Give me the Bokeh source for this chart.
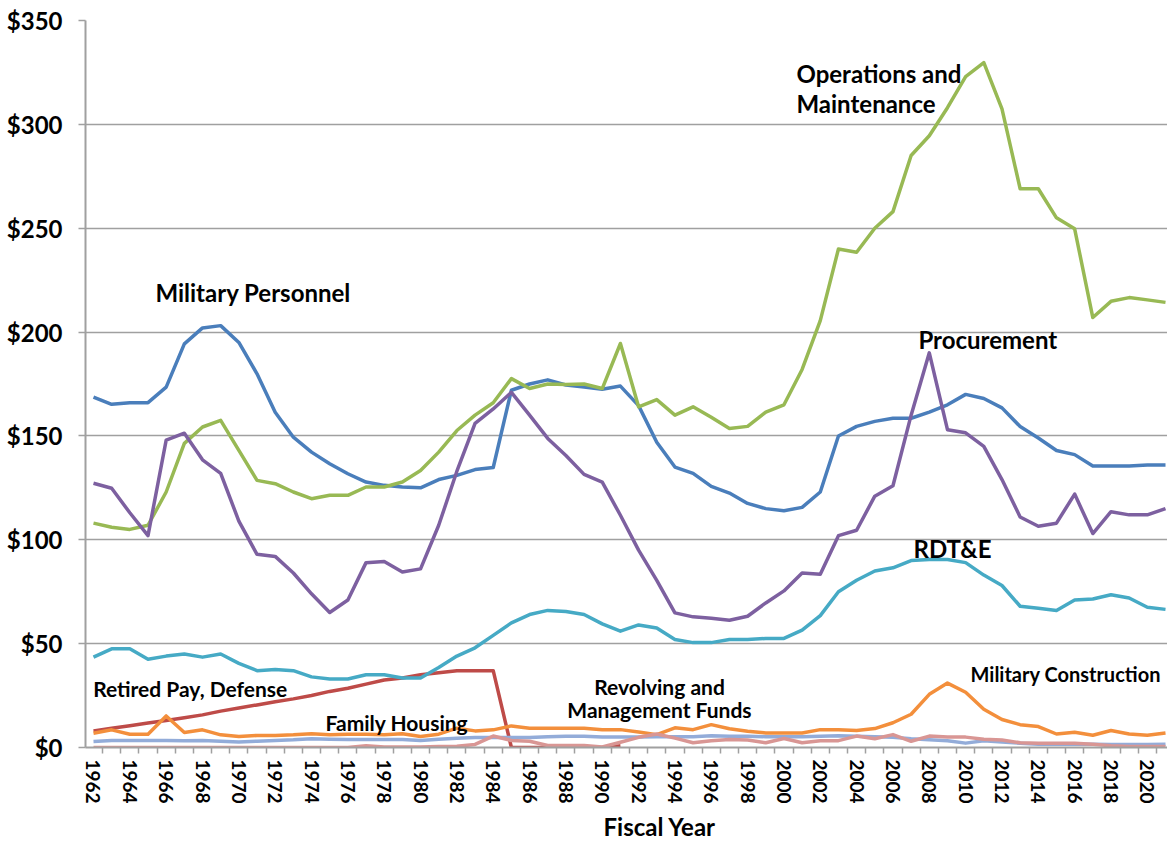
import numpy as np
from bokeh.plotting import figure
from bokeh.models import Range1d, FixedTicker, PrintfTickFormatter, Title, ColumnDataSource
from bokeh.core.properties import value
from bokeh.embed import file_html
from bokeh.resources import INLINE

years = list(range(1962, 2022))

military_personnel = [168.7, 165.2, 166, 166, 173.5, 194.3, 202, 203.1,
                      195, 179.9, 161.4, 149.4, 142.2, 136.6, 131.8, 127.8, 126.2, 125.4,
                      125, 129, 131, 133.8, 134.8, 172, 175, 177, 174.5, 173.5,
                      172.5, 174, 164.6, 147, 135, 132, 125.7, 122.5, 117.5, 115,
                      114, 115.6, 123, 150, 154.6, 157, 158.5, 158.5, 161.5, 165,
                      170, 168, 163.5, 154.5, 149, 143, 141, 135.5, 135.5, 135.5,
                      136, 136]

retired_pay = [8, 9.3, 10.5, 11.8, 13, 14.3, 15.7, 17.5,
               19, 20.5, 22, 23.4, 25, 27, 28.5, 30.5, 32.5, 33.5,
               35, 36, 37, 37, 37, 0, 0, 0, 0, 0,
               0, 0.8] + [float("nan")] * 30

operations_maintenance = [108, 106, 105, 107, 123, 146.4, 154.3, 157.5,
                          143, 128.6, 127, 123, 119.8, 121.4, 121.4, 125.4, 125.4, 127.8,
                          133.4, 142.2, 152.6, 160, 166, 177.6, 172.8, 175, 174.8, 175,
                          172.8, 194.5, 164, 167.5, 160, 164, 159, 153.6, 154.6, 161.5,
                          165, 182, 205.5, 240, 238.4, 250, 258, 285, 294.5, 308,
                          323, 329.7, 307.5, 269, 269, 255, 249.7, 207, 214.8, 216.6,
                          215.5, 214.3]

procurement = [127.2, 124.8, 113, 102, 148, 151.3, 138.5, 132,
               109, 93, 92, 84, 74, 65, 71, 89, 89.5, 84.5,
               86, 107, 133, 156, 163, 171, 160, 148.8, 140.6, 131.5,
               127.8, 111.8, 95, 80.5, 64.8, 62.9, 62.2, 61.3, 63.2, 69.6,
               75.4, 84, 83.4, 102, 104.6, 121, 126, 160, 190, 153,
               151.5, 145, 129, 111, 106.5, 108, 122, 103, 113.5, 112,
               112, 115]

rdte = [43.5, 47.5, 47.5, 42.5, 44, 45, 43.5, 45,
        40.5, 37, 37.5, 37, 34, 33, 33, 35, 35, 33.5,
        33.5, 38.5, 44, 48, 54, 60, 64, 66, 65.5, 64,
        59.5, 56, 59, 57.5, 52, 50.5, 50.5, 52, 52, 52.5,
        52.5, 56.5, 63.5, 75, 80.5, 85, 86.5, 90, 90.5, 90.5,
        89, 83, 78, 68, 67, 66, 71, 71.5, 73.5, 72,
        67.5, 66.5]

military_construction = [6.9, 8.5, 6.4, 6.4, 15.2, 7.2, 8.5, 6.1,
                         5.3, 5.8, 5.8, 6.1, 6.6, 6.1, 6.4, 6.4, 6.1, 6.6,
                         5.3, 6.4, 9.3, 8, 8.5, 10.4, 9.3, 9.3, 9.3, 9.3,
                         8.6, 8.6, 7.5, 6.2, 9.5, 8.6, 11, 9, 7.8, 7,
                         7, 7, 8.6, 8.6, 8.2, 9.1, 11.9, 16, 25.6, 31,
                         26.6, 18.4, 13.5, 11, 10.1, 6.5, 7.3, 5.9, 8.2, 6.5,
                         5.9, 7]

family_housing = [2.9, 3.4, 3.4, 3.4, 3.4, 3.2, 3.4, 3,
                  2.7, 3, 3.4, 3.7, 4.2, 4, 3.8, 3.8, 3.8, 3.8,
                  3.4, 4, 4.4, 4.8, 4.8, 4.8, 4.8, 5.2, 5.4, 5.4,
                  5, 5, 5, 5.2, 5.2, 5.2, 5.6, 5.4, 5.4, 5.2,
                  5.2, 5.2, 5.4, 5.6, 5.4, 5.2, 4.9, 4.2, 3.7, 3.3,
                  2.1, 3.3, 2.6, 2.1, 1.6, 1.6, 1.6, 1.6, 1.5, 1.5,
                  1.5, 1.6]

revolving_funds = [0, 0, 0, 0, 0, 0, 0, 0,
                   0, 0, 0, 0, 0, 0, 0, 0.8, 0.3, 0.3,
                   0.3, 0.5, 0.6, 1.5, 5.5, 3.4, 3, 1, 1, 1,
                   0.3, 2.5, 4.9, 6.5, 4.5, 2.3, 3.3, 3.8, 3.6, 2.3,
                   4.3, 2.3, 3.3, 3.3, 5.5, 4.2, 6.2, 3, 5.5, 5,
                   5, 4, 3.6, 2.3, 2, 2, 2, 1.6, 0.8, 0.5,
                   0.5, 0.5]

series = [
    (military_personnel, "#4A7EBB"),
    (retired_pay, "#BE4B48"),
    (operations_maintenance, "#98B954"),
    (procurement, "#7D60A0"),
    (rdte, "#46AAC5"),
    (military_construction, "#F38F3C"),
    (family_housing, "#93ACD9"),
    (revolving_funds, "#D99694"),
]

y_ticks = [0, 50, 100, 150, 200, 250, 300, 350]
x_label_years = list(range(1962, 2021, 2))

big_text = ["Operations and", "Maintenance", "Military Personnel", "Procurement", "RDT&E"]
big_x = [2000.69, 2000.69, 1965.41, 2007.40, 2007.13]
big_y = [324.7, 310.1, 218.9, 196.5, 96.0]

small_text = ["Retired Pay, Defense", "Family Housing"]
small_x = [1961.98, 1974.77]
small_y = [28.6, 11.8]

milcon_text = ["Military Construction"]
milcon_x = [2010.27]
milcon_y = [35.4]

center_text = ["Revolving and", "Management Funds"]
center_x = [1993.15, 1993.15]
center_y = [29.6, 18.5]

FONT = "Lato"
GRAY = "#A0A0A0"

p = figure(width=1167, height=844, output_backend="svg", toolbar_location=None,
           x_range=Range1d(1961.56, 2021.11), y_range=Range1d(0, 350),
           min_border_left=85, min_border_right=0, min_border_top=20, min_border_bottom=97)
p.outline_line_color = None
p.background_fill_color = "white"
p.border_fill_color = "white"

p.xgrid.visible = False
p.ygrid.grid_line_color = GRAY
p.ygrid.grid_line_width = 1.5

# y axis
p.yaxis.ticker = FixedTicker(ticks=y_ticks)
p.yaxis.formatter = PrintfTickFormatter(format="$%d")
p.yaxis.axis_line_color = GRAY
p.yaxis.axis_line_width = 2
p.yaxis.major_tick_line_color = GRAY
p.yaxis.major_tick_line_width = 1.5
p.yaxis.major_tick_out = 7
p.yaxis.major_tick_in = 0
p.yaxis.minor_tick_line_color = None
p.yaxis.major_label_standoff = 16
p.yaxis.major_label_text_font = FONT
p.yaxis.major_label_text_font_style = "bold"
p.yaxis.major_label_text_font_size = "24px"
p.yaxis.major_label_text_color = "black"

# x axis
p.xaxis.ticker = FixedTicker(ticks=x_label_years,
                             minor_ticks=[y - 0.5 for y in years] + [years[-1] + 0.5])
p.xaxis.axis_line_color = GRAY
p.xaxis.axis_line_width = 2
p.xaxis.major_tick_line_color = None
p.xaxis.major_tick_out = 6
p.xaxis.major_tick_in = 0
p.xaxis.minor_tick_line_color = GRAY
p.xaxis.minor_tick_line_width = 1.5
p.xaxis.minor_tick_out = 6
p.xaxis.minor_tick_in = 0
p.xaxis.major_label_orientation = "vertical"
p.xaxis.major_label_standoff = 6
p.xaxis.major_label_text_font = FONT
p.xaxis.major_label_text_font_style = "bold"
p.xaxis.major_label_text_font_size = "19px"
p.xaxis.major_label_text_color = "black"

xs = np.array(years, dtype=float)
for vals, color in series:
    src = ColumnDataSource(dict(x=xs, y=np.array(vals, dtype=float)))
    p.line("x", "y", source=src, line_color=color, line_width=3.5, line_join="round")

p.text(x=big_x, y=big_y, text=big_text, text_font=value(FONT), text_font_style="bold",
       text_font_size="24px", text_color="black", text_align="left", text_baseline="middle")
p.text(x=small_x, y=small_y, text=small_text, text_font=value(FONT), text_font_style="bold",
       text_font_size="21px", text_color="black", text_align="left", text_baseline="middle")
p.text(x=milcon_x, y=milcon_y, text=milcon_text, text_font=value(FONT), text_font_style="bold",
       text_font_size="20px", text_color="black", text_align="left", text_baseline="middle")
p.text(x=center_x, y=center_y, text=center_text, text_font=value(FONT), text_font_style="bold",
       text_font_size="21px", text_color="black", text_align="center", text_baseline="middle")

p.add_layout(Title(text="Fiscal Year", align="left", offset=518, text_font=FONT,
                   text_font_style="bold", text_font_size="24px", text_color="black",
                   standoff=7), "below")

open("out.html", "w").write(file_html(p, INLINE))
